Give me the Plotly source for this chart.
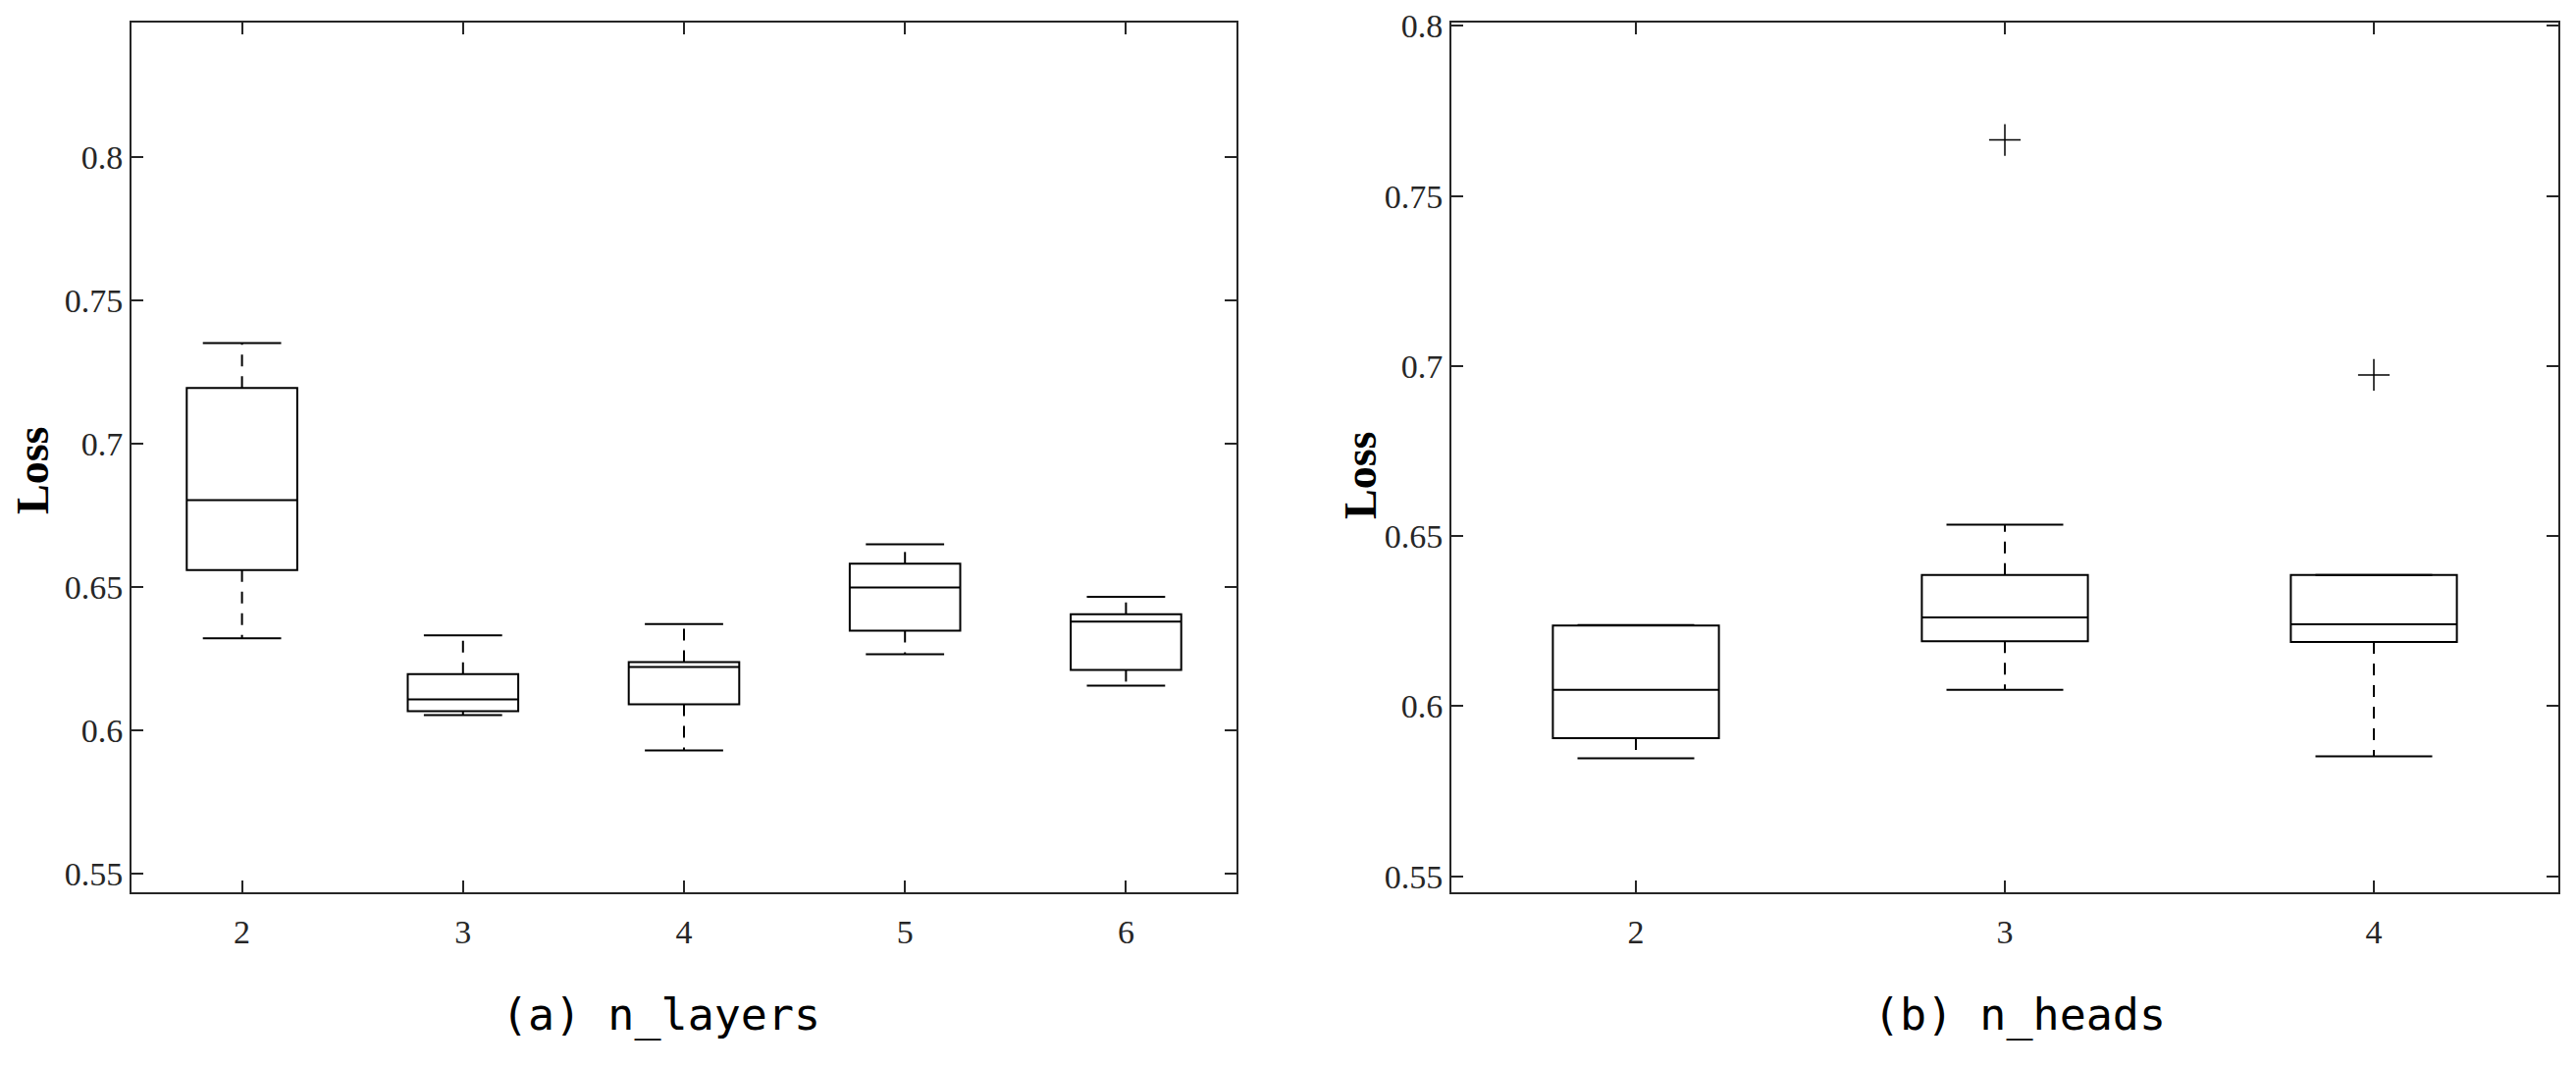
import plotly.graph_objects as go
from plotly.subplots import make_subplots

# (a) n_layers
layers = [2, 3, 4, 5, 6]
layers_lower = [0.632, 0.6052, 0.5929, 0.6264, 0.6155]
layers_q1 = [0.6558, 0.6066, 0.609, 0.6347, 0.621]
layers_median = [0.6802, 0.6107, 0.622, 0.6497, 0.6378]
layers_q3 = [0.7193, 0.6195, 0.6237, 0.658, 0.6404]
layers_upper = [0.735, 0.633, 0.637, 0.6648, 0.6465]

# (b) n_heads
heads = [2, 3, 4]
heads_lower = [0.5847, 0.6048, 0.5853]
heads_q1 = [0.5906, 0.6191, 0.6189]
heads_median = [0.6048, 0.6261, 0.6241]
heads_q3 = [0.6237, 0.6386, 0.6386]
heads_upper = [0.6239, 0.6534, 0.6386]
heads_outlier_x = [3, 4]
heads_outlier_y = [0.7665, 0.6974]

y_ticks = [0.55, 0.6, 0.65, 0.7, 0.75, 0.8]
y_ticktext = ['0.55', '0.6', '0.65', '0.7', '0.75', '0.8']

INK = '#262626'
# page body has an 8px margin, so the figure is drawn a bit smaller and offset
OFF = 8
W, H = 2625 - 2 * OFF, 1087 - 2 * OFF


def px_x(p):
    return (p - OFF) / W


def px_y(p):
    return 1 - (p - OFF) / H


def add_boxes(fig, col, x, lower, q1, med, q3, upper, box_w, cap_px):
    # box body only, whiskers drawn separately so they can be dashed
    fig.add_trace(go.Box(
        x=x, q1=q1, median=med, q3=q3, lowerfence=q1, upperfence=q3,
        width=box_w, whiskerwidth=0, fillcolor='rgba(0,0,0,0)',
        line=dict(color='black', width=2), boxpoints=False,
        hoverinfo='skip', showlegend=False
    ), row=1, col=col)
    wx, wy = [], []
    for xi, lo, a, b, up in zip(x, lower, q1, q3, upper):
        wx += [xi, xi, None, xi, xi, None]
        wy += [b, up, None, a, lo, None]
    fig.add_trace(go.Scatter(
        x=wx, y=wy, mode='lines',
        line=dict(color='black', width=2, dash='12px,10px'),
        hoverinfo='skip', showlegend=False
    ), row=1, col=col)
    fig.add_trace(go.Scatter(
        x=list(x) + list(x), y=list(upper) + list(lower), mode='markers',
        marker=dict(symbol='line-ew', size=cap_px, line=dict(color='black', width=2)),
        hoverinfo='skip', showlegend=False
    ), row=1, col=col)


fig = make_subplots(rows=1, cols=2)

add_boxes(fig, 1, layers, layers_lower, layers_q1, layers_median, layers_q3, layers_upper, 0.5, 57)
add_boxes(fig, 2, heads, heads_lower, heads_q1, heads_median, heads_q3, heads_upper, 0.45, 85)

fig.add_trace(go.Scatter(
    x=heads_outlier_x, y=heads_outlier_y, mode='markers',
    marker=dict(symbol='cross-thin', size=23, line=dict(color='black', width=1.5)),
    hoverinfo='skip', showlegend=False
), row=1, col=2)

axis_common = dict(
    showgrid=False, zeroline=False, showline=True, mirror='ticks', automargin=False,
    linecolor=INK, linewidth=2, ticks='inside', ticklen=12, tickwidth=2, tickcolor=INK,
    tickfont=dict(family='Liberation Serif', size=34, color=INK)
)

fig.update_xaxes(axis_common)
fig.update_yaxes(axis_common)

fig.update_layout(
    width=W, height=H,
    margin=dict(l=0, r=0, t=0, b=0),
    paper_bgcolor='white', plot_bgcolor='white',
    showlegend=False,
    xaxis=dict(domain=[px_x(134), px_x(1260)], range=[1.5, 6.5], tickvals=layers, ticklabelstandoff=9),
    xaxis2=dict(domain=[px_x(1479), px_x(2607)], range=[1.5, 4.5], tickvals=heads, ticklabelstandoff=9),
    yaxis=dict(domain=[px_y(909), px_y(23)], range=[0.5434, 0.8468],
               tickvals=y_ticks, ticktext=y_ticktext),
    yaxis2=dict(domain=[px_y(909), px_y(23)], range=[0.5453, 0.801],
                tickvals=y_ticks, ticktext=y_ticktext),
    annotations=[
        dict(text='<b>Loss</b>', x=px_x(33), y=px_y(480), xref='paper', yref='paper',
             textangle=-90, showarrow=False, xanchor='center', yanchor='middle',
             font=dict(family='Liberation Serif', size=46, color='black')),
        dict(text='<b>Loss</b>', x=px_x(1387), y=px_y(485), xref='paper', yref='paper',
             textangle=-90, showarrow=False, xanchor='center', yanchor='middle',
             font=dict(family='Liberation Serif', size=46, color='black')),
        dict(text='(a) n_layers', x=px_x(673), y=px_y(1033), xref='paper', yref='paper',
             showarrow=False, xanchor='center', yanchor='middle',
             font=dict(family='DejaVu Sans Mono', size=45, color='black')),
        dict(text='(b) n_heads', x=px_x(2058), y=px_y(1033), xref='paper', yref='paper',
             showarrow=False, xanchor='center', yanchor='middle',
             font=dict(family='DejaVu Sans Mono', size=45, color='black')),
    ]
)

fig.write_html("out.html")
